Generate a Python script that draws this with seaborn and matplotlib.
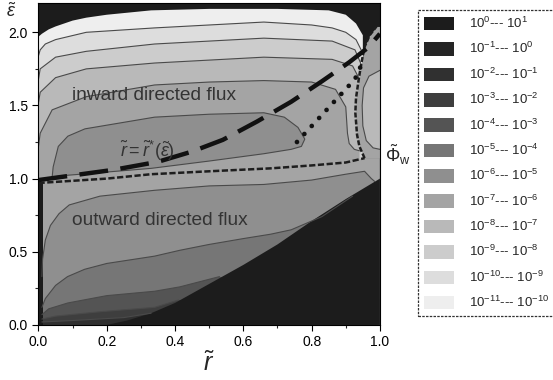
import matplotlib
matplotlib.use('Agg')
import matplotlib.pyplot as plt
import seaborn as sns
from matplotlib.patches import Patch
from matplotlib.ticker import AutoMinorLocator, FormatStrFormatter

# ---- values (r~ , eps~) ----
# flux bands: exponent k means 10^k --- 10^(k+1)
band_exp = [0, -1, -2, -3, -4, -5, -6, -7, -8, -9, -10, -11]
band_grey = ['#1c1c1c', '#252525', '#303030', '#3e3e3e', '#545454', '#767676',
             '#8f8f8f', '#a4a4a4', '#b9b9b9', '#cccccc', '#dddddd', '#eeeeee']

# inward region (upper part): edge of the black top area and contour lines
top_r = [0.0, 0.01, 0.03, 0.05, 0.10, 0.14, 0.20, 0.33, 0.50, 0.70, 0.85, 0.90, 0.93, 0.95]
top_eps = [1.97, 1.99, 2.02, 2.04, 2.08, 2.10, 2.12, 2.15, 2.16, 2.16, 2.15, 2.12, 2.06, 1.98]
l1_r = [0.0, 0.005, 0.02, 0.05, 0.14, 0.34, 0.50, 0.66, 0.80, 0.86, 0.90, 0.93, 0.945]
l1_eps = [1.84, 1.88, 1.92, 1.95, 2.00, 2.03, 2.05, 2.07, 2.05, 2.03, 2.00, 1.95, 1.88]
l2_r = [0.0, 0.005, 0.05, 0.14, 0.34, 0.50, 0.66, 0.86, 0.927, 0.947]
l2_eps = [1.68, 1.75, 1.83, 1.87, 1.92, 1.94, 1.96, 1.94, 1.88, 1.77]
l3_r = [0.0, 0.005, 0.05, 0.14, 0.34, 0.50, 0.66, 0.86, 0.92, 0.94]
l3_eps = [1.52, 1.59, 1.69, 1.75, 1.79, 1.81, 1.83, 1.815, 1.77, 1.68]
l4_r = [0.0, 0.005, 0.04, 0.14, 0.34, 0.50, 0.66, 0.80, 0.87, 0.90, 0.905, 0.91, 0.925, 0.94]
l4_eps = [1.22, 1.31, 1.47, 1.56, 1.64, 1.66, 1.67, 1.66, 1.61, 1.49, 1.31, 1.24, 1.20, 1.19]
lens_r = [0.04, 0.043, 0.058, 0.086, 0.136, 0.34, 0.50, 0.66, 0.72, 0.76, 0.78, 0.77,
          0.74, 0.66, 0.50, 0.33, 0.15, 0.07, 0.04]
lens_eps = [1.01, 1.08, 1.22, 1.29, 1.34, 1.42, 1.44, 1.45, 1.42, 1.35, 1.27, 1.22,
            1.20, 1.17, 1.12, 1.07, 1.035, 1.02, 1.01]

# right edge strip
wav_r = [0.955, 0.94, 0.933, 0.928, 0.93, 0.938, 0.945, 0.955, 0.97, 0.99]
wav_eps = [1.14, 1.22, 1.30, 1.45, 1.55, 1.68, 1.78, 1.90, 1.98, 2.04]
edge_lens_r = [1.0, 0.98, 0.96, 0.95, 0.948, 0.952, 0.968, 1.0]
edge_lens_eps = [1.20, 1.21, 1.26, 1.36, 1.50, 1.62, 1.70, 1.74]

# boundary between inward and outward flux
sep_r = [0.0, 0.10, 0.20, 0.33, 0.50, 0.68, 0.80, 0.90, 0.955]
sep_eps = [0.97, 0.985, 1.0, 1.03, 1.05, 1.07, 1.09, 1.11, 1.14]

# outward region (lower part): contour lines
o1_r = [0.01, 0.012, 0.02, 0.035, 0.06, 0.09, 0.18, 0.34, 0.50, 0.66, 0.80, 0.90, 0.955, 0.975, 0.985]
o1_eps = [0.33, 0.45, 0.58, 0.68, 0.76, 0.82, 0.88, 0.92, 0.95, 0.96, 0.99, 1.03, 1.05, 1.0, 0.98]
o2_r = [0.01, 0.02, 0.05, 0.085, 0.135, 0.20, 0.34, 0.414, 0.50, 0.60, 0.68, 0.74, 0.83, 0.92]
o2_eps = [0.12, 0.18, 0.27, 0.33, 0.38, 0.42, 0.47, 0.51, 0.55, 0.59, 0.62, 0.65, 0.74, 0.88]
o3_r = [0.01, 0.03, 0.086, 0.20, 0.34, 0.414, 0.53]
o3_eps = [0.07, 0.11, 0.15, 0.20, 0.23, 0.26, 0.33]
o4_r = [0.01, 0.05, 0.18, 0.34, 0.41]
o4_eps = [0.04, 0.06, 0.09, 0.12, 0.17]
o5_r = [0.01, 0.10, 0.25, 0.33]
o5_eps = [0.02, 0.03, 0.05, 0.08]

# edge of the black area at lower right, black strip at r~0
black_r = [0.20, 0.26, 0.33, 0.40, 0.50, 0.60, 0.70, 0.80, 0.90, 1.0]
black_eps = [0.0, 0.03, 0.08, 0.15, 0.28, 0.41, 0.55, 0.71, 0.86, 1.0]
strip_r = 0.012

# r = r*(eps) dashed curve and dotted curve
rstar_r = [0.0, 0.11, 0.22, 0.35, 0.45, 0.54, 0.64, 0.74, 0.83, 0.91, 0.965, 1.0]
rstar_eps = [0.99, 1.025, 1.06, 1.115, 1.185, 1.265, 1.39, 1.525, 1.665, 1.795, 1.895, 1.99]
dot_r = [0.757, 0.84, 0.927, 0.95]
dot_eps = [1.25, 1.46, 1.68, 1.80]

shade = dict(zip(band_exp, band_grey))

sns.set_style('ticks')
plt.rcParams['font.family'] = ['Liberation Sans', 'DejaVu Sans']
plt.rcParams['mathtext.fontset'] = 'custom'
plt.rcParams['mathtext.rm'] = 'Liberation Sans'
plt.rcParams['mathtext.it'] = 'Liberation Sans:italic'
plt.rcParams['mathtext.bf'] = 'Liberation Sans:bold'

fig, ax = plt.subplots(figsize=(5.53, 3.80), dpi=100)
fig.subplots_adjust(left=0.0696, right=0.687, bottom=0.145, top=0.992)
ax.set_facecolor(shade[0])

floor = 0.9  # hidden under the outward region
# upper bands, painted from the top down
ax.fill(top_r + [top_r[-1], 0.0], top_eps + [floor, floor], color=shade[-11], lw=0)
for rr, ee, k in [(l1_r, l1_eps, -10), (l2_r, l2_eps, -9), (l3_r, l3_eps, -8), (l4_r, l4_eps, -7)]:
    ax.fill(rr + [rr[-1], 0.0], ee + [floor, floor], color=shade[k], lw=0)
ax.fill(lens_r, lens_eps, color=shade[-6], lw=0)
ax.fill_betweenx(wav_eps, wav_r, 1.0, color=shade[-7], lw=0)
ax.fill(edge_lens_r, edge_lens_eps, color=shade[-8], lw=0)

# lower bands
ax.fill(sep_r + [1.0, 1.0, 0.0], sep_eps + [sep_eps[-1], 0.0, 0.0], color=shade[-7], lw=0)
for rr, ee, k in [(o1_r, o1_eps, -6), (o2_r, o2_eps, -5), (o3_r, o3_eps, -4),
                  (o4_r, o4_eps, -3), (o5_r, o5_eps, -2)]:
    ax.fill(rr + [1.0, 0.0, 0.0], ee + [0.0, 0.0, ee[0]], color=shade[k], lw=0)
ax.fill(black_r + [1.0], black_eps + [0.0], color=shade[0], lw=0)
ax.fill_betweenx([0.0, sep_eps[0]], 0.0, strip_r, color=shade[0], lw=0)

# thin contour lines
for rr, ee in [(l1_r, l1_eps), (l2_r, l2_eps), (l3_r, l3_eps), (l4_r, l4_eps), (lens_r, lens_eps),
               (edge_lens_r, edge_lens_eps), (o1_r, o1_eps), (o2_r, o2_eps), (o3_r, o3_eps),
               (o4_r, o4_eps), (o5_r, o5_eps)]:
    ax.plot(rr, ee, color='#4a4a4a', lw=0.8)

ax.plot(sep_r, sep_eps, color='#1e1e1e', lw=1.8, linestyle=(0, (2.5, 1.0)))
ax.plot(wav_r, wav_eps, color='#1e1e1e', lw=1.8, linestyle=(0, (2.0, 0.8)))
sns.lineplot(x=rstar_r, y=rstar_eps, ax=ax, color='#111111', lw=3.2,
             linestyle=(0, (6.5, 2.8)), sort=False, estimator=None)
sns.lineplot(x=dot_r, y=dot_eps, ax=ax, color='#111111', lw=3.4,
             linestyle=(0, (0.01, 2.3)), dash_capstyle='round', sort=False, estimator=None)

ax.text(0.098, 1.54, 'inward directed flux', fontsize=13.8, color='#333333', va='baseline')
ax.text(0.098, 0.685, 'outward directed flux', fontsize=13.8, color='#333333', va='baseline')
ax.text(0.24, 1.15, r'$\tilde{r}=\tilde{r}^{*}(\tilde{\varepsilon})$', fontsize=13,
        color='#333333', va='baseline')

ax.set_xlim(0, 1.0)
ax.set_ylim(0, 2.2)
ax.set_xticks([0.0, 0.2, 0.4, 0.6, 0.8, 1.0])
ax.set_yticks([0.0, 0.5, 1.0, 1.5, 2.0])
ax.xaxis.set_minor_locator(AutoMinorLocator(2))
ax.yaxis.set_minor_locator(AutoMinorLocator(2))
ax.xaxis.set_major_formatter(FormatStrFormatter('%.1f'))
ax.yaxis.set_major_formatter(FormatStrFormatter('%.1f'))
ax.tick_params(which='major', direction='out', length=4, width=0.8, labelsize=10, colors='black')
ax.tick_params(which='minor', direction='out', length=2.5, width=0.8)
for s in ax.spines.values():
    s.set_color('black')
    s.set_linewidth(0.8)
ax.set_xlabel(r'$\tilde{r}$', fontsize=18, labelpad=2)
ax.set_ylabel('')
ax.text(-0.08, 0.972, r'$\tilde{\varepsilon}$', transform=ax.transAxes, fontsize=13,
        ha='center', va='center')
fig.text(398 / 553, 1 - 155 / 380, r'$\tilde{\Phi}_{\mathrm{w}}$', fontsize=13,
         ha='center', va='center')

handles = [Patch(facecolor=shade[k], edgecolor='none') for k in band_exp]
labels = [rf'$10^{{{k}}}$--- $10^{{{k + 1}}}$' for k in band_exp]
leg = fig.legend(handles, labels, loc='upper left', bbox_to_anchor=(418 / 553, 1 - 10 / 380),
                 frameon=True, fancybox=False, fontsize=9.5, handlelength=2.3, handleheight=1.2,
                 handletextpad=1.1, labelspacing=0.77, borderpad=0.45, borderaxespad=0)
leg.get_frame().set_edgecolor('black')
leg.get_frame().set_linewidth(0.9)
leg.get_frame().set_linestyle((0, (2, 1)))

fig.savefig('out.png', dpi=100)
